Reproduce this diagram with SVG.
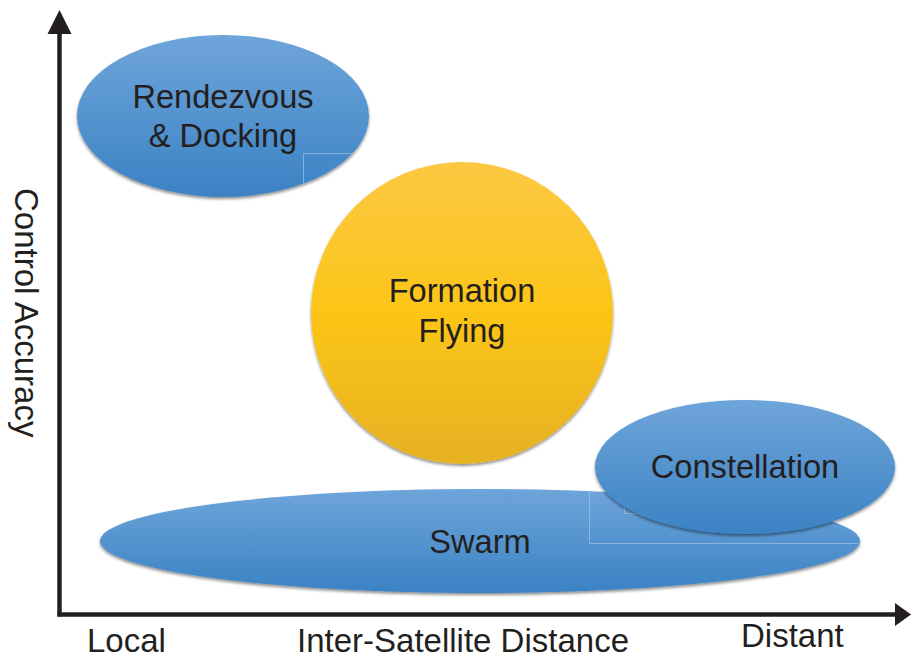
<svg xmlns="http://www.w3.org/2000/svg" width="911" height="659" viewBox="0 0 911 659">
  <defs>
    <linearGradient id="blueFill" x1="0" y1="0" x2="0" y2="1">
      <stop offset="0" stop-color="#6ea5da"/>
      <stop offset="1" stop-color="#3b82c4"/>
    </linearGradient>
    <linearGradient id="goldFill" x1="0" y1="0" x2="0" y2="1">
      <stop offset="0" stop-color="#fcc843"/>
      <stop offset="0.5" stop-color="#fcc517"/>
      <stop offset="1" stop-color="#e6b124"/>
    </linearGradient>
    <filter id="shade" x="-10%" y="-10%" width="120%" height="130%">
      <feDropShadow dx="0" dy="2" stdDeviation="1.6" flood-color="#000" flood-opacity="0.45"/>
    </filter>
  </defs>
  <style>
    .lbl { font-family: "Liberation Sans", Arial, sans-serif; font-size: 32.6px; fill: #231f20; text-anchor: middle; }
    .axis-lbl { font-family: "Liberation Sans", Arial, sans-serif; font-size: 33px; fill: #231f20; }
    .axis { stroke: #231f20; stroke-width: 4.5; fill: none; }
    .head { fill: #231f20; }
    .blue { fill: url(#blueFill); filter: url(#shade); }
    .gold { fill: url(#goldFill); filter: url(#shade); }
    .frame { stroke: #b6d0ea; stroke-opacity: 0.55; stroke-width: 1; fill: none; }
  </style>

  <!-- axes -->
  <g id="axes">
    <line class="axis" x1="59.5" y1="30" x2="59.5" y2="616.5"/>
    <line class="axis" x1="57.5" y1="614.5" x2="897" y2="614.5"/>
    <polygon class="head" points="59.5,10 71.5,34 47.5,34"/>
    <polygon class="head" points="911,614.5 895,603 895,626"/>
    <text class="axis-lbl" transform="translate(15,188) rotate(90)">Control Accuracy</text>
    <text class="axis-lbl" x="87" y="652">Local</text>
    <text class="axis-lbl" x="297" y="652">Inter-Satellite Distance</text>
    <text class="axis-lbl" x="741" y="647">Distant</text>
  </g>

  <!-- categories -->
  <g id="rendezvous-docking">
    <ellipse class="blue" cx="223" cy="116" rx="146" ry="81"/>
    <path class="frame" d="M303.5,186 V153.5 H356"/>
    <text class="lbl" x="223" y="108">Rendezvous</text>
    <text class="lbl" x="223" y="147">&amp; Docking</text>
  </g>

  <g id="formation-flying">
    <circle class="gold" cx="462" cy="313" r="151"/>
    <text class="lbl" x="462" y="302">Formation</text>
    <text class="lbl" x="462" y="342">Flying</text>
  </g>

  <g id="swarm">
    <ellipse class="blue" cx="480" cy="541" rx="380" ry="52"/>
    <path class="frame" d="M589.5,492 V543.5 H858"/>
    <path class="frame" d="M624.5,503 V513.5 H640"/>
    <text class="lbl" x="480" y="553">Swarm</text>
  </g>

  <g id="constellation">
    <ellipse class="blue" cx="745" cy="467" rx="150" ry="67"/>
    <text class="lbl" x="745" y="478">Constellation</text>
  </g>

  <g id="connectors"></g>
</svg>
